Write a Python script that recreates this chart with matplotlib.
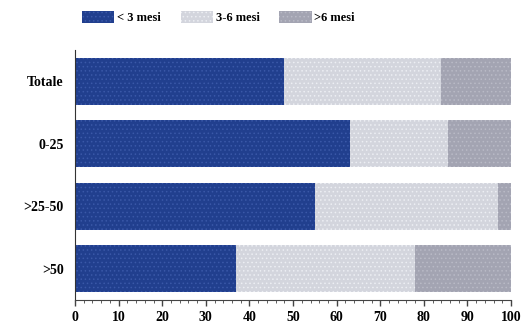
import matplotlib.pyplot as plt
from matplotlib.ticker import MultipleLocator

plt.rcParams["font.family"] = ["Liberation Serif", "DejaVu Serif"]
plt.rcParams["hatch.linewidth"] = 0.6

categories = ["Totale", "0-25", ">25-50", ">50"]
series_names = ["< 3 mesi", "3-6 mesi", ">6 mesi"]
lt3 = [48, 63, 55, 37]
m3_6 = [36, 22.5, 42, 41]
gt6 = [16, 14.5, 3, 22]

colors = ["#213f8e", "#d3d5dd", "#a3a4b2"]
hatch_colors = ["#3a58a8", "#eceef3", "#b9bac6"]


def main():
    fig = plt.figure(figsize=(5.21, 3.28), dpi=100)
    ax = fig.add_axes([0.144, 0.085, 0.837, 0.763])

    ypos = list(range(len(categories)))
    left = [0] * len(categories)
    for name, vals, col, hcol in zip(series_names, [lt3, m3_6, gt6], colors, hatch_colors):
        ax.barh(ypos, vals, left=left, height=0.75, color=col, edgecolor=hcol,
                linewidth=0, hatch="....", label=name)
        left = [a + b for a, b in zip(left, vals)]

    ax.set_ylim(3.5, -0.5)
    ax.set_xlim(0, 100)
    ax.set_yticks(ypos)
    ax.set_yticklabels(categories, fontsize=10, fontweight="bold")
    ax.xaxis.set_major_locator(MultipleLocator(10))
    ax.xaxis.set_minor_locator(MultipleLocator(2))
    ax.tick_params(axis="x", labelsize=10, length=4, width=1, color="#444444", pad=4)
    ax.tick_params(axis="x", which="minor", length=2, color="#444444")
    ax.tick_params(axis="y", length=0, pad=8)
    for lab in ax.get_xticklabels():
        lab.set_fontweight("bold")
    for s in ["top", "right"]:
        ax.spines[s].set_visible(False)
    ax.spines["left"].set_color("#333333")
    ax.spines["bottom"].set_color("#444444")

    fig.legend(loc="upper left", bbox_to_anchor=(0.145, 0.985), ncol=3, frameon=False,
               borderpad=0, handlelength=2.6, handleheight=1.1, handletextpad=0.2,
               columnspacing=1.6, prop={"weight": "bold", "size": 9})

    fig.savefig("out.png", dpi=100)
    plt.close(fig)


if __name__ == "__main__":
    main()
